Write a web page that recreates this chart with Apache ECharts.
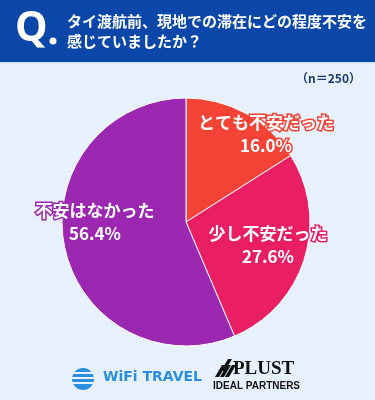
<!DOCTYPE html>
<html><head><meta charset="utf-8">
<script src="https://cdn.jsdelivr.net/npm/echarts@6/dist/echarts.min.js"></script>
<style>html,body{margin:0;padding:0;background:#E7F1FD}#c{width:375px;height:400px}</style>
</head><body><div id="c"></div>
<script>
const categories = ['とても不安だった', '少し不安だった', '不安はなかった'];
const values = [16.0, 27.6, 56.4];
const colors = ['#F44336', '#E91E63', '#9C27B0'];
const sampleNote = '（n＝250）';
const titleLines = ['タイ渡航前、現地での滞在にどの程度不安を', '感じていましたか？'];
const labelAnchors = [[266, 134], [268, 245], [95, 222]];

const FONT = '"Noto Sans CJK JP", "Noto Sans", sans-serif';
const BG = '#E7F1FD';
function stripe(x, y) {
  return { type: 'polygon', shape: { points: [[x, y], [x + 4, y], [x - 3, y + 12], [x - 7, y + 12]] }, style: { fill: '#111' } };
}
const chart = echarts.init(document.getElementById('c'));
chart.setOption({
  backgroundColor: BG,
  animation: false,
  graphic: [
    { type: 'rect', shape: { x: 0, y: 0, width: 375, height: 62 }, style: { fill: '#0A47A9' } },
    { type: 'rect', shape: { x: 0, y: 62, width: 375, height: 2 }, style: { fill: '#D4E6FA' } },
    { type: 'text', left: 15, top: 9, style: { text: 'Q', fill: '#fff', font: 'bold 41px "Open Sans", ' + FONT } },
    { type: 'circle', shape: { cx: 53, cy: 41, r: 3.5 }, style: { fill: '#fff' } },
    { type: 'text', left: 67, top: 14, style: { text: titleLines[0], fill: '#fff', font: 'bold 15px ' + FONT } },
    { type: 'text', left: 67, top: 34, style: { text: titleLines[1], fill: '#fff', font: 'bold 15px ' + FONT } },
    { type: 'text', right: 14, top: 72, style: { text: sampleNote, fill: '#1B3A6B', font: 'bold 12px ' + FONT } },
    // WiFi TRAVEL logo
    { type: 'circle', shape: { cx: 83, cy: 379, r: 11 }, style: { fill: '#2A8FE0' } },
    { type: 'rect', shape: { x: 71, y: 372, width: 24, height: 2 }, style: { fill: BG } },
    { type: 'rect', shape: { x: 71, y: 377, width: 24, height: 2 }, style: { fill: BG } },
    { type: 'rect', shape: { x: 71, y: 382, width: 24, height: 2 }, style: { fill: BG } },
    { type: 'text', left: 103, top: 370, style: { text: 'WiFi TRAVEL', fill: '#2A8FE0', font: 'bold 14px "DejaVu Sans", sans-serif' } },
    // PLUST logo
    stripe(222, 365), stripe(227, 365), stripe(232, 365), stripe(228, 359),
    { type: 'text', left: 233, top: 360, style: { text: 'PLUST', fill: '#111', font: 'bold 19px "Liberation Serif", serif' } },
    { type: 'text', left: 213, top: 381, style: { text: 'IDEAL PARTNERS', fill: '#111', font: 'bold 10px "Liberation Sans", sans-serif' } }
  ],
  series: [{
    type: 'pie',
    center: [186, 222],
    radius: 124,
    startAngle: 90,
    clockwise: true,
    silent: true,
    itemStyle: { borderColor: '#ffffff', borderWidth: 1 },
    data: categories.map((n, i) => ({ name: n, value: values[i], itemStyle: { color: colors[i] },
      label: { textBorderColor: colors[i] } })),
    label: {
      show: true,
      position: 'inside',
      formatter: p => p.name + '\n' + p.value.toFixed(1) + '%',
      color: '#fff',
      fontFamily: FONT,
      fontWeight: 'bold',
      fontSize: 17,
      lineHeight: 23,
      textBorderWidth: 3,
      align: 'center'
    },
    labelLine: { show: false },
    labelLayout: p => ({ x: labelAnchors[p.dataIndex][0], y: labelAnchors[p.dataIndex][1], align: 'center', verticalAlign: 'middle' })
  }]
});
</script></body></html>
